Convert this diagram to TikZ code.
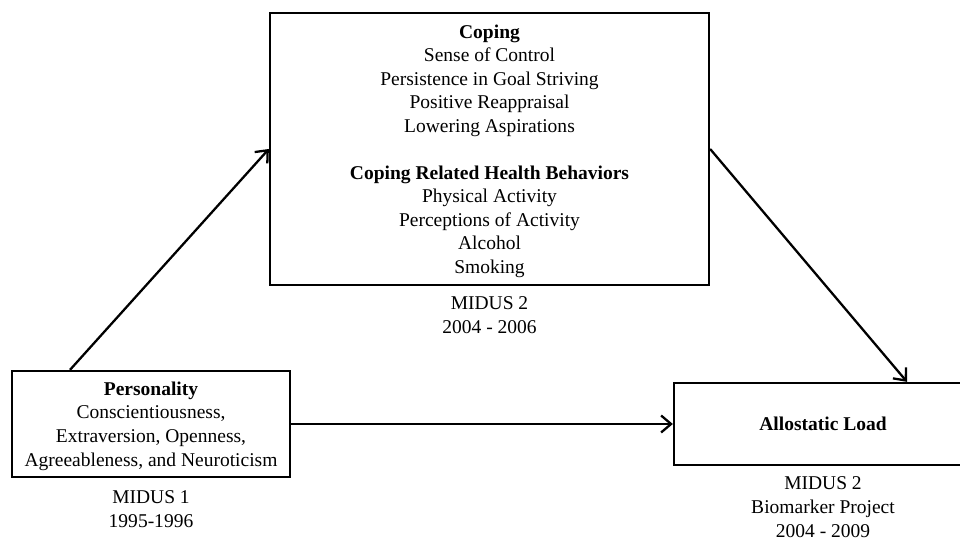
\documentclass[tikz,border=0pt]{standalone}
\usepackage{fontspec}
\setmainfont{Liberation Serif}
\usepackage{tikz}
\usetikzlibrary{positioning,arrows.meta}

\begin{document}
\begin{tikzpicture}
  [font=\fontsize{11.1}{13.4}\selectfont,
   every node/.style={align=center},
   box/.style={draw,rectangle,line width=1.3pt,inner sep=0pt},
   period/.style={inner sep=1pt},
   link/.style={line width=1.3pt,-{Straight Barb[length=2mm,width=3.4mm]}}]
  \useasboundingbox (0,0) rectangle (19.2,10.8);

  \node[box,text depth=-5pt,minimum width=8.78cm,minimum height=5.44cm] (cope) at (9.79,7.82)
    {\textbf{Coping}\\ Sense of Control\\ Persistence in Goal Striving\\
     Positive Reappraisal\\ Lowering Aspirations\\[13.4pt]
     \textbf{Coping Related Health Behaviors}\\ Physical Activity\\
     Perceptions of Activity\\ Alcohol\\ Smoking};
  \node[box,text depth=-7.5pt,minimum width=5.56cm,minimum height=2.12cm] (pers) at (3.02,2.32)
    {\textbf{Personality}\\ Conscientiousness,\\ Extraversion, Openness,\\
     Agreeableness, and Neuroticism};
  \node[box,minimum width=5.96cm,minimum height=1.64cm] (allo) at (16.46,2.32)
    {\textbf{Allostatic Load}};

  \node[period,below=6pt of pers] (t1) {MIDUS 1\\ 1995-1996};
  \node[period,below=5pt of cope] (t2) {MIDUS 2\\ 2004 - 2006};
  \node[period,below=5pt of allo] (t3) {MIDUS 2\\ Biomarker Project\\ 2004 - 2009};

  \draw[link] ([xshift=-1.62cm]pers.north) -- (cope.west);
  \draw[link] (cope.east) -- ([xshift=1.68cm]allo.north);
  \draw[link] (pers.east) -- (allo.west);
\end{tikzpicture}
\end{document}
